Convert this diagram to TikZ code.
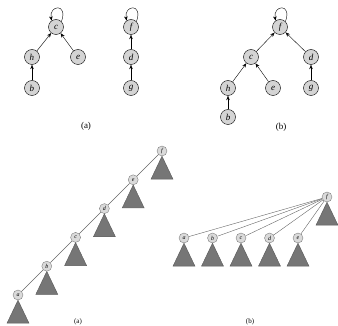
\documentclass[tikz,border=0pt]{standalone}
\usepackage{fontspec}
\setmainfont{Liberation Serif}
\usetikzlibrary{arrows.meta}
\definecolor{trifill}{RGB}{118,118,118}
\definecolor{tnodefill}{RGB}{212,212,212}
\definecolor{bnodefill}{RGB}{218,218,218}
\tikzset{
  tnode/.style={circle,draw=black,fill=tnodefill,minimum size=15pt,inner sep=0pt,font=\small\itshape},
  bnode/.style={circle,draw=gray,fill=bnodefill,minimum size=10pt,inner sep=0pt,font=\fontsize{6}{6}\selectfont\itshape},
  arr/.style={-{Stealth[length=4.5pt,width=3.5pt]},thin},
  bline/.style={gray!80!black,thin},
  tri/.style={fill=trifill,draw=gray!70!black,thin},
  lab/.style={font=\small},
  blab/.style={font=\scriptsize}
}
\begin{document}
\begin{tikzpicture}[x=1pt,y=-1pt]
\useasboundingbox (0,0) rectangle (338,326);
% ---- top (a)
\node[tnode] (ac) at (56,27) {c};
\node[tnode] (ah) at (32,57) {h};
\node[tnode] (ae) at (78,57) {e};
\node[tnode] (ab) at (32,88) {b};
\node[tnode] (af) at (131,27) {f};
\node[tnode] (ad) at (131,57) {d};
\node[tnode] (ag) at (131,88) {g};
\draw[arr] (ah) -- (ac);
\draw[arr] (ae) -- (ac);
\draw[arr] (ab) -- (ah);
\draw[arr] (ad) -- (af);
\draw[arr] (ag) -- (ad);
\draw[arr] (ac.45) .. controls +(-70:20) and +(-100:16) .. (ac.125);
\draw[arr] (af.45) .. controls +(-70:20) and +(-100:16) .. (af.125);
\node[lab] (la) at (86,126) {(a)};
% ---- top (b)
\node[tnode] (bf) at (280,27) {f};
\node[tnode] (bc) at (251,57) {c};
\node[tnode] (bd) at (311,57) {d};
\node[tnode] (bh) at (228,88) {h};
\node[tnode] (be) at (273,88) {e};
\node[tnode] (bg) at (311,88) {g};
\node[tnode] (bb) at (228,117) {b};
\draw[arr] (bc) -- (bf);
\draw[arr] (bd) -- (bf);
\draw[arr] (bh) -- (bc);
\draw[arr] (be) -- (bc);
\draw[arr] (bg) -- (bd);
\draw[arr] (bb) -- (bh);
\draw[arr] (bf.45) .. controls +(-70:20) and +(-100:16) .. (bf.125);
\node[lab] (lb) at (281,127) {(b)};
% ---- bottom (a)
\foreach \n/\i in {a/0,b/1,c/2,d/3,e/4,f/5}{
  \node[bnode] (p\n) at ({18+28.8*\i},{295-28.8*\i}) {\n};
  \draw[tri] (p\n.south) -- ++(-11,23) -- ++(22,0) -- cycle;
}
\draw[bline] (pa) -- (pb);
\draw[bline] (pb) -- (pc);
\draw[bline] (pc) -- (pd);
\draw[bline] (pd) -- (pe);
\draw[bline] (pe) -- (pf);
\node[blab] (lc) at (78,322) {(a)};
% ---- bottom (b)
\node[bnode] (qf) at (327,197) {f};
\draw[tri] (qf.south) -- ++(-11,23) -- ++(22,0) -- cycle;
\foreach \n/\i in {a/0,b/1,c/2,d/3,e/4}{
  \node[bnode] (q\n) at ({184+28.5*\i},238) {\n};
  \draw[tri] (q\n.south) -- ++(-11,23) -- ++(22,0) -- cycle;
  \draw[bline] (q\n) -- (qf);
}
\node[blab] (ld) at (250,322) {(b)};
\end{tikzpicture}
\end{document}
